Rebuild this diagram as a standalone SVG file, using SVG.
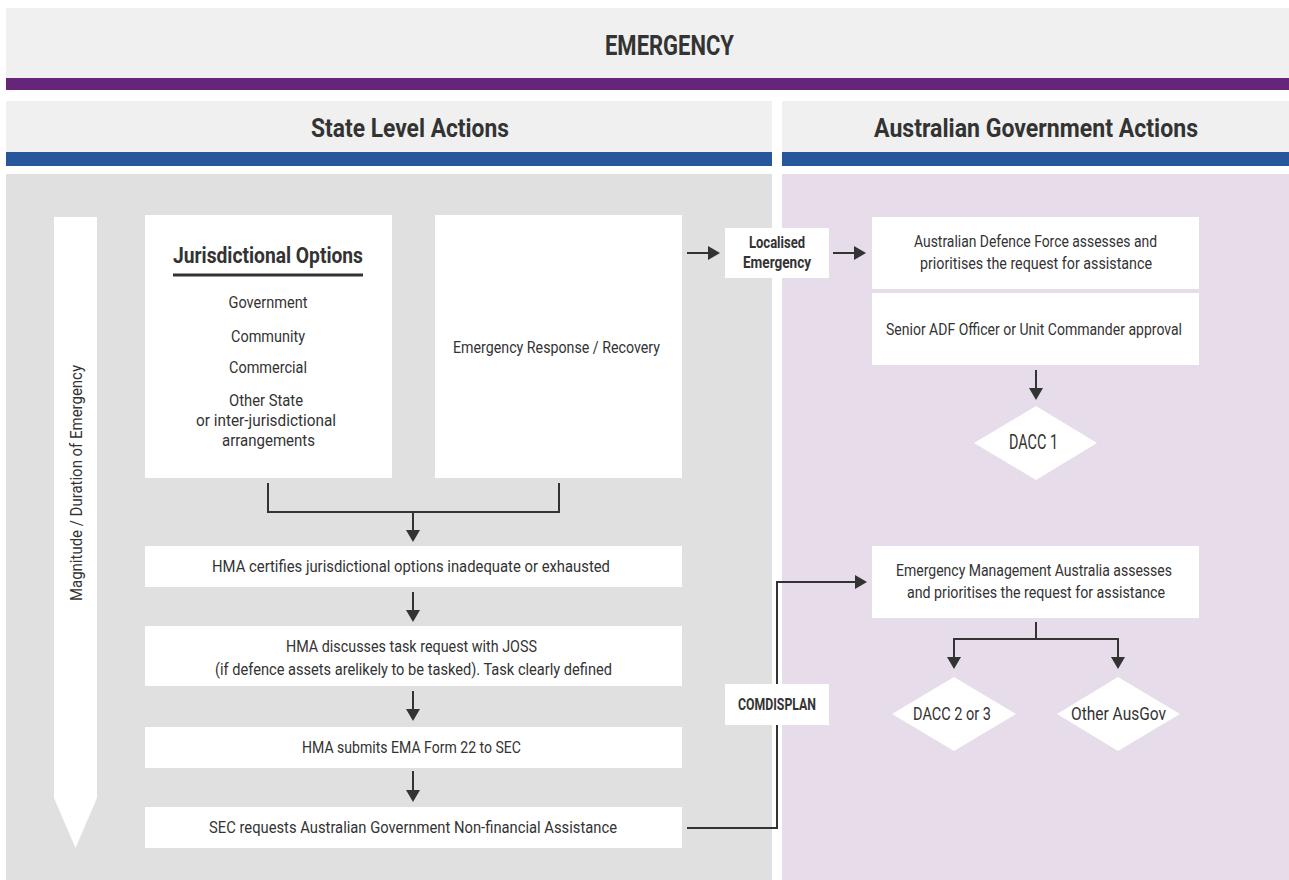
<svg xmlns="http://www.w3.org/2000/svg" width="1289" height="880" viewBox="0 0 1289 880">
<style>
text{font-family:Roboto,"Liberation Sans",sans-serif;fill:#333;text-anchor:middle;}
.b{font-weight:700;}
.t{font-size:17px;}
.h{font-size:26px;font-weight:700;}
.box{fill:#fff;}
.ln{fill:none;stroke:#333;stroke-width:2;}
.arr{marker-end:url(#ah);}
</style>
<defs>
<marker id="ah" viewBox="0 0 12 14" refX="8" refY="7" markerWidth="12" markerHeight="14" markerUnits="userSpaceOnUse" orient="auto">
<path d="M0,0 L12,7 L0,14 Z" fill="#333"/>
</marker>
</defs>
<rect width="1289" height="880" fill="#fff"/>
<g id="banner">
<rect x="6" y="8" width="1283" height="70" fill="#eff0ef"/>
<rect x="6" y="78" width="1283" height="12" fill="#65257a"/>
<text x="669.5" y="55" class="b" font-size="27" textLength="129" lengthAdjust="spacingAndGlyphs">EMERGENCY</text>
</g>
<g id="state-header">
<rect x="6" y="101" width="766" height="51" fill="#eff0ef"/>
<rect x="6" y="152" width="766" height="14" fill="#26579a"/>
<text x="410" y="137" class="h" textLength="198" lengthAdjust="spacingAndGlyphs">State Level Actions</text>
</g>
<g id="aus-header">
<rect x="782" y="101" width="507" height="51" fill="#eff0ef"/>
<rect x="782" y="152" width="507" height="14" fill="#26579a"/>
<text x="1036" y="137" class="h" textLength="324" lengthAdjust="spacingAndGlyphs">Australian Government Actions</text>
</g>
<g id="panels">
<rect x="6" y="174" width="766" height="706" fill="#e0e0e0"/>
<rect x="782" y="174" width="507" height="706" fill="#e6dcea"/>
</g>
<g id="magnitude">
<path d="M54,217 H97 V798 L75.5,848 L54,798 Z" fill="#fff"/>
<text transform="translate(82,483) rotate(-90)" class="t" textLength="236" lengthAdjust="spacingAndGlyphs">Magnitude / Duration of Emergency</text>
</g>
<g id="jurisdictional">
<rect x="145" y="215" width="247" height="263" class="box"/>
<text x="268" y="263" class="b" font-size="22" textLength="190" lengthAdjust="spacingAndGlyphs">Jurisdictional Options</text>
<rect x="173" y="273.5" width="190" height="3" fill="#333"/>
<text x="268" y="308" class="t" textLength="79" lengthAdjust="spacingAndGlyphs">Government</text>
<text x="268" y="341.5" class="t" textLength="74" lengthAdjust="spacingAndGlyphs">Community</text>
<text x="268" y="373" class="t" textLength="78" lengthAdjust="spacingAndGlyphs">Commercial</text>
<text x="266" y="405.5" class="t" textLength="74" lengthAdjust="spacingAndGlyphs">Other State</text>
<text x="266" y="426" class="t" textLength="140" lengthAdjust="spacingAndGlyphs">or inter-jurisdictional</text>
<text x="268.5" y="445.5" class="t" textLength="93" lengthAdjust="spacingAndGlyphs">arrangements</text>
</g>
<g id="response">
<rect x="435" y="215" width="247" height="263" class="box"/>
<text x="556.5" y="353" class="t" textLength="207" lengthAdjust="spacingAndGlyphs">Emergency Response / Recovery</text>
</g>
<g id="localised">
<rect x="725" y="228" width="104" height="50" class="box"/>
<text x="777" y="248" class="b t" textLength="56" lengthAdjust="spacingAndGlyphs">Localised</text>
<text x="777" y="268" class="b t" textLength="68" lengthAdjust="spacingAndGlyphs">Emergency</text>
</g>
<g id="adf">
<rect x="872" y="217" width="327" height="72" class="box"/>
<text x="1035.5" y="247" class="t" textLength="243" lengthAdjust="spacingAndGlyphs">Australian Defence Force assesses and</text>
<text x="1036" y="268.5" class="t" textLength="232" lengthAdjust="spacingAndGlyphs">prioritises the request for assistance</text>
</g>
<g id="senior">
<rect x="872" y="293" width="327" height="72" class="box"/>
<text x="1034" y="335" class="t" textLength="296" lengthAdjust="spacingAndGlyphs">Senior ADF Officer or Unit Commander approval</text>
</g>
<g id="dacc1">
<polygon points="974,443 1036,406 1097,443 1036,480" class="box"/>
<text x="1033.5" y="449" font-size="20" textLength="49" lengthAdjust="spacingAndGlyphs">DACC 1</text>
</g>
<g id="certifies">
<rect x="145" y="546" width="537" height="41" class="box"/>
<text x="411" y="572" class="t" textLength="398" lengthAdjust="spacingAndGlyphs">HMA certifies jurisdictional options inadequate or exhausted</text>
</g>
<g id="discusses">
<rect x="145" y="626" width="537" height="60" class="box"/>
<text x="411.5" y="652" class="t" textLength="251" lengthAdjust="spacingAndGlyphs">HMA discusses task request with JOSS</text>
<text x="413.5" y="675" class="t" textLength="397" lengthAdjust="spacingAndGlyphs">(if defence assets arelikely to be tasked). Task clearly defined</text>
</g>
<g id="submits">
<rect x="145" y="727" width="537" height="41" class="box"/>
<text x="411.5" y="753" class="t" textLength="219" lengthAdjust="spacingAndGlyphs">HMA submits EMA Form 22 to SEC</text>
</g>
<g id="sec">
<rect x="145" y="807" width="537" height="41" class="box"/>
<text x="413" y="833" class="t" textLength="408" lengthAdjust="spacingAndGlyphs">SEC requests Australian Government Non-financial Assistance</text>
</g>
<g id="ema">
<rect x="872" y="546" width="327" height="72" class="box"/>
<text x="1034" y="576" class="t" textLength="276" lengthAdjust="spacingAndGlyphs">Emergency Management Australia assesses</text>
<text x="1036" y="597.5" class="t" textLength="258" lengthAdjust="spacingAndGlyphs">and prioritises the request for assistance</text>
</g>
<g id="dacc23">
<polygon points="892,714 954,677 1016,714 954,751" class="box"/>
<text x="952" y="720" font-size="19" textLength="78" lengthAdjust="spacingAndGlyphs">DACC 2 or 3</text>
</g>
<g id="otherausgov">
<polygon points="1057,714 1118,677 1180,714 1118,751" class="box"/>
<text x="1118.5" y="720" font-size="19" textLength="95" lengthAdjust="spacingAndGlyphs">Other AusGov</text>
</g>
<g id="connectors">
<path d="M268,483 V512 H559 V483" class="ln"/>
<path d="M413,512 V538" class="ln arr"/>
<path d="M413,592 V618" class="ln arr"/>
<path d="M413,691 V717" class="ln arr"/>
<path d="M413,771 V798" class="ln arr"/>
<path d="M687,253 H716" class="ln arr"/>
<path d="M833,253 H862" class="ln arr"/>
<path d="M1036,370 V396" class="ln arr"/>
<path d="M687,828 H777 V582 H863" class="ln arr"/>
<path d="M1036,622 V639" class="ln"/>
<path d="M954,665 V639 H1118 V665" class="ln"/>
<path d="M954,650 V665" class="ln arr"/>
<path d="M1118,650 V665" class="ln arr"/>
</g>
<g id="comdisplan">
<rect x="725" y="684" width="104" height="41" class="box"/>
<text x="777" y="710" class="b t" textLength="78" lengthAdjust="spacingAndGlyphs">COMDISPLAN</text>
</g>
</svg>
